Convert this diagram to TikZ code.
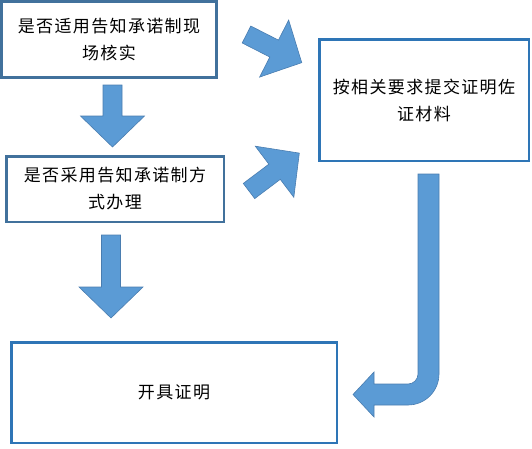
\documentclass[tikz,border=0pt]{standalone}
\usepackage{fontspec}
\setmainfont{Noto Sans CJK SC}[LetterSpace=8]
\usetikzlibrary{positioning,calc}
\definecolor{boxline}{HTML}{41719C}
\definecolor{boxlineb}{HTML}{2E75B6}
\definecolor{arrowfill}{HTML}{5B9BD5}
\definecolor{arrowline}{HTML}{4A7DB0}

\begin{document}
\begin{tikzpicture}[x=1pt,y=-1pt,
    stepbox/.style={draw=boxline,line width=2.5pt,fill=white,inner sep=0pt,
      align=center,font=\fontsize{17}{27}\selectfont},
    blockarrow/.style={fill=arrowfill,draw=arrowline,line width=0.6pt,line join=miter}]
    \useasboundingbox (0,0) rectangle (532,448);
    % the four boxes
    \node[stepbox,minimum width=215pt,minimum height=76pt] (check) at (109,39.5)
      {是否适用告知承诺制现\\场核实};
    \node[stepbox,minimum width=217.5pt,minimum height=65.5pt] (promise) at (115,189)
      {是否采用告知承诺制方\\式办理};
    \node[stepbox,draw=boxlineb,minimum width=209.5pt,minimum height=121.5pt] (material) at (424,100)
      {按相关要求提交证明佐\\证材料};
    \node[stepbox,draw=boxlineb,minimum width=325.5pt,minimum height=100.5pt] (issue) at (174,392.5)
      {开具证明};
    % straight block arrows: tail x / tail y / angle / length
    \foreach \x/\y/\a/\l in {112.5/85/-90/62,111/235/-90/83,246.5/34.5/-27/62,249/191/37/63}{
      \begin{scope}[shift={(\x,\y)},rotate=\a]
        \draw[blockarrow] (0,-9.5) -- (\l-31,-9.5) -- (\l-31,-32) -- (\l,0)
          -- (\l-31,32) -- (\l-31,9.5) -- (0,9.5) -- cycle;
      \end{scope}
    }
    % bent arrow from the right box down to the last box
    \draw[blockarrow] (418,174) -- (439,174) -- (439,374)
      .. controls (439,391.1) and (425.1,405) .. (408,405)
      -- (374,405) -- (374,417) -- (353,394.5) -- (374,372) -- (374,384) -- (408,384)
      .. controls (413.5,384) and (418,379.5) .. (418,374) -- cycle;
\end{tikzpicture}
\end{document}
